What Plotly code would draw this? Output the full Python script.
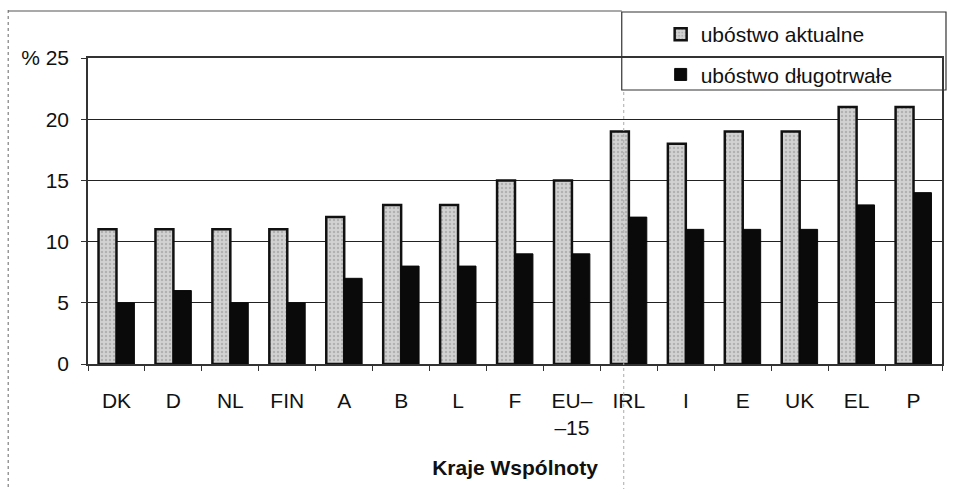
import plotly.graph_objects as go

countries = ["DK", "D", "NL", "FIN", "A", "B", "L", "F", "EU–<br>–15", "IRL", "I", "E", "UK", "EL", "P"]
ubostwo_aktualne = [11, 11, 11, 11, 12, 13, 13, 15, 15, 19, 18, 19, 19, 21, 21]
ubostwo_dlugotrwale = [5, 6, 5, 5, 7, 8, 8, 9, 9, 12, 11, 11, 11, 13, 14]
y_ticks = [0, 5, 10, 15, 20, 25]
y_tick_labels = ["0", "5", "10", "15", "20", "% 25"]

# plot area in pixels: x 88..944, y 58..364
L, R, T, B = 88, 944, 58, 364
W, H = R - L, B - T
def px(x):
    return (x - L) / W
def py(y):
    return (B - y) / H

fig = go.Figure()
fig.add_trace(go.Bar(
    x=countries, y=ubostwo_aktualne, name="ubóstwo aktualne",
    marker=dict(color="#c9c9c9", line=dict(color="#111111", width=2.5),
                pattern=dict(shape=".", fgcolor="#8f8f8f", bgcolor="#d2d2d2", size=4, solidity=0.3)),
    legendgroup="a",
))
fig.add_trace(go.Bar(
    x=countries, y=ubostwo_dlugotrwale, name="ubóstwo długotrwałe",
    marker=dict(color="#0a0a0a", line=dict(color="#0a0a0a", width=1)),
    legendgroup="b",
))

fig.update_layout(
    width=955, height=489,
    margin=dict(l=L, r=955 - R, t=T, b=489 - B),
    paper_bgcolor="white", plot_bgcolor="white",
    font=dict(family="Liberation Sans, Arial, sans-serif", size=21, color="#111111"),
    barmode="group", bargap=0.37, bargroupgap=0.0,
    showlegend=True,
    legend=dict(
        x=px(662), y=py(14), xanchor="left", yanchor="top",
        bgcolor="rgba(0,0,0,0)", borderwidth=0,
        font=dict(size=21), tracegroupgap=10,
    ),
    xaxis=dict(
        title=dict(text="<b>Kraje Wspólnoty</b>", font=dict(size=21), standoff=22),
        showline=True, linecolor="#333333", linewidth=1.5, mirror=True,
        ticks="outside", tickson="boundaries", ticklen=5, tickcolor="#333333",
        ticklabelstandoff=17,
        tickfont=dict(size=21),
        showgrid=False,
    ),
    yaxis=dict(
        range=[0, 25], tickvals=y_ticks, ticktext=y_tick_labels,
        showline=True, linecolor="#333333", linewidth=1.5, mirror=True,
        ticks="outside", ticklen=5, tickcolor="#333333", ticklabelstandoff=8,
        showgrid=True, gridcolor="#222222", gridwidth=1,
        tickfont=dict(size=21), zeroline=False,
    ),
    shapes=[
        # outer frame (left and top)
        dict(type="line", xref="paper", yref="paper", x0=px(8), x1=px(8), y0=py(10), y1=py(489),
             line=dict(color="#666666", width=1, dash="dot")),
        dict(type="line", xref="paper", yref="paper", x0=px(8), x1=px(623), y0=py(11), y1=py(11),
             line=dict(color="#555555", width=1.2)),
        # legend frame
        dict(type="rect", xref="paper", yref="paper", x0=px(623), x1=px(948), y0=py(90), y1=py(12),
             line=dict(color="#333333", width=1.2), fillcolor="rgba(255,255,255,0)", layer="above"),
        # faint fold line
        dict(type="line", xref="paper", yref="paper", x0=px(625), x1=px(625), y0=py(92), y1=py(489),
             line=dict(color="#aaaaaa", width=1, dash="dot")),
    ],
)

fig.write_html("out.html", config={"displayModeBar": False},
               post_script="document.body.style.margin='0';document.body.style.padding='0';")
